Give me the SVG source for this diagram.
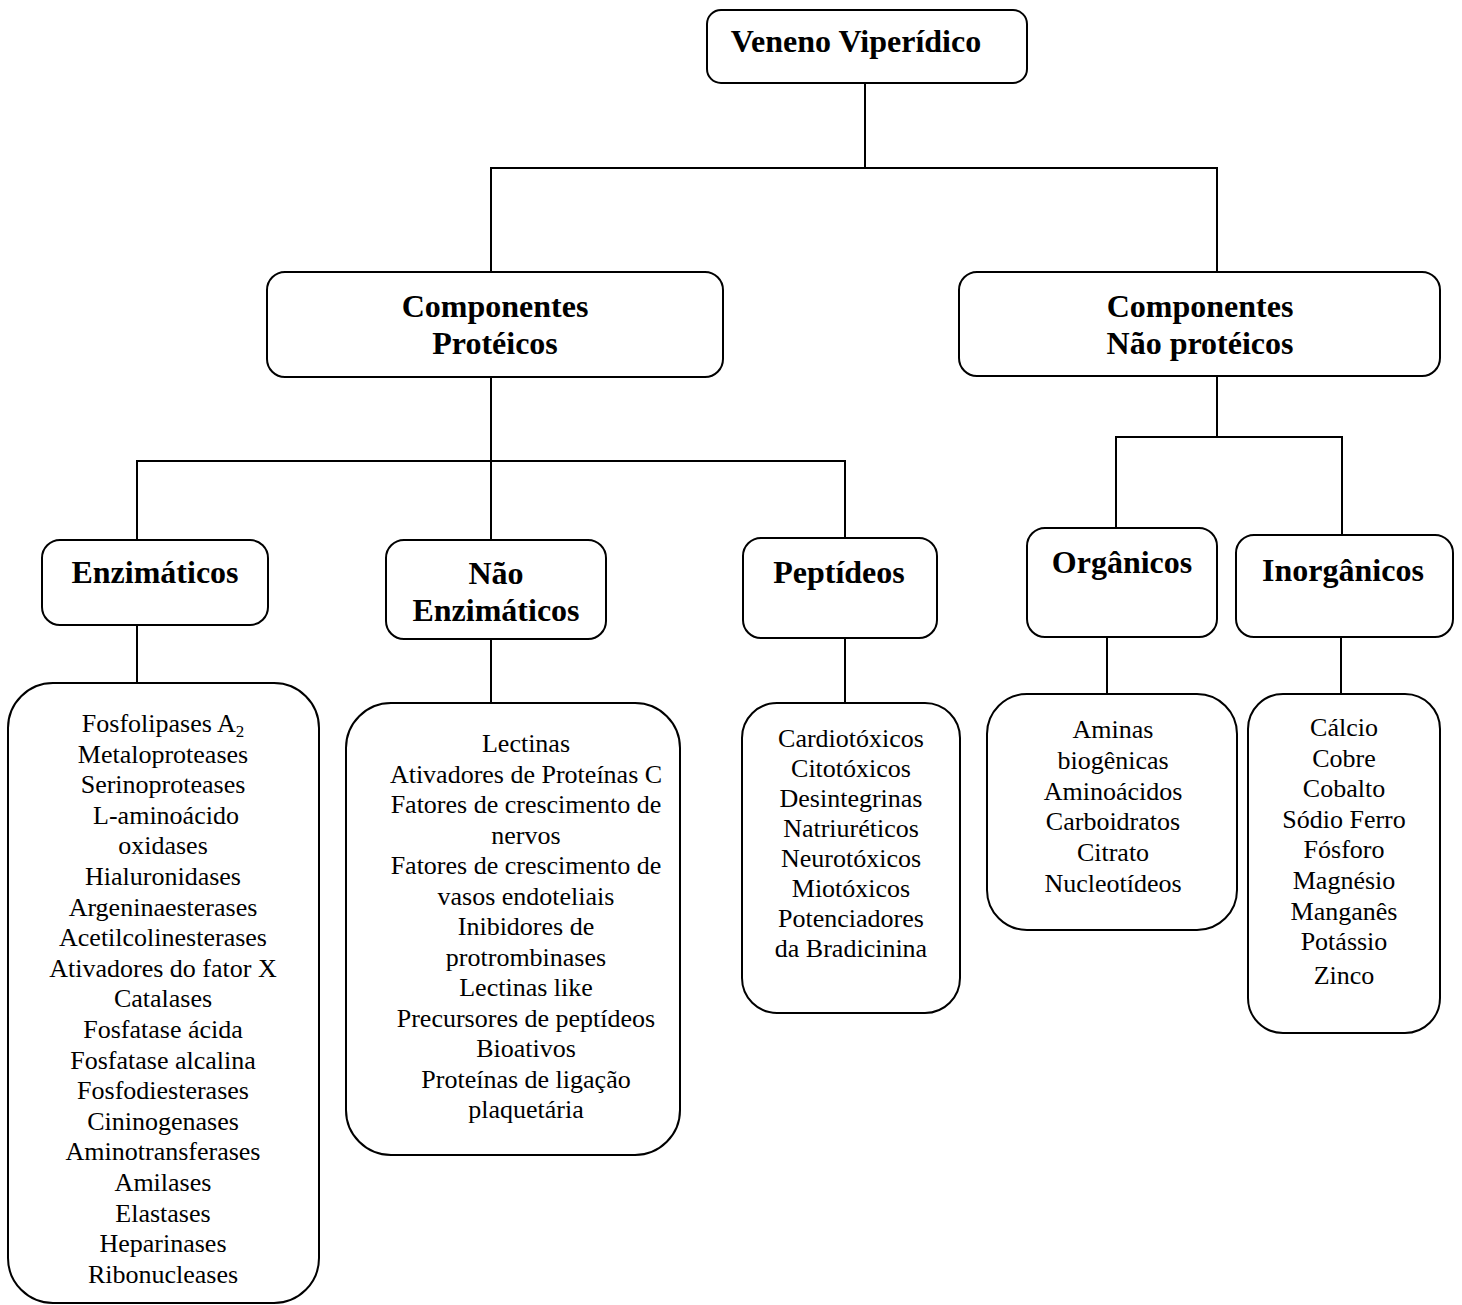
<svg xmlns="http://www.w3.org/2000/svg" width="1462" height="1305" viewBox="0 0 1462 1305">
<style>
.box{fill:#fff;stroke:#000;stroke-width:2}
.hd{font-family:"Liberation Serif","Times New Roman",serif;font-weight:bold;font-size:32px;text-anchor:middle;fill:#000}
.tx{font-family:"Liberation Serif","Times New Roman",serif;font-size:26px;text-anchor:middle;fill:#000}
.ln{fill:none;stroke:#000;stroke-width:2}
</style>
<rect width="1462" height="1305" fill="#fff"/>
<g id="connectors">
<polyline class="ln" points="865,83 865,168"/>
<polyline class="ln" points="491,272 491,168 1217,168 1217,272"/>
<polyline class="ln" points="491,377 491,540"/>
<polyline class="ln" points="137,540 137,461 845,461 845,538"/>
<polyline class="ln" points="1217,376 1217,437"/>
<polyline class="ln" points="1116,529 1116,437 1342,437 1342,535"/>
<polyline class="ln" points="137,625 137,683"/>
<polyline class="ln" points="491,639 491,703"/>
<polyline class="ln" points="845,638 845,703"/>
<polyline class="ln" points="1107,637 1107,694"/>
<polyline class="ln" points="1341,637 1341,694"/>
</g>
<g id="veneno">
<rect class="box" x="707" y="10" width="320" height="73" rx="14"/>
<text class="hd" x="856" y="52">Veneno Viperídico</text>
</g>
<g id="proteicos">
<rect class="box" x="267" y="272" width="456" height="105" rx="18"/>
<text class="hd" x="495" y="317">Componentes</text>
<text class="hd" x="495" y="354">Protéicos</text>
</g>
<g id="naoproteicos">
<rect class="box" x="959" y="272" width="481" height="104" rx="18"/>
<text class="hd" x="1200" y="317">Componentes</text>
<text class="hd" x="1200" y="354">Não protéicos</text>
</g>
<g id="enzimaticos">
<rect class="box" x="42" y="540" width="226" height="85" rx="18"/>
<text class="hd" x="155" y="583">Enzimáticos</text>
</g>
<g id="naoenzimaticos">
<rect class="box" x="386" y="540" width="220" height="99" rx="18"/>
<text class="hd" x="496" y="584">Não</text>
<text class="hd" x="496" y="621">Enzimáticos</text>
</g>
<g id="peptideos">
<rect class="box" x="743" y="538" width="194" height="100" rx="18"/>
<text class="hd" x="839" y="583">Peptídeos</text>
</g>
<g id="organicos">
<rect class="box" x="1027" y="528" width="190" height="109" rx="18"/>
<text class="hd" x="1122" y="573">Orgânicos</text>
</g>
<g id="inorganicos">
<rect class="box" x="1236" y="535" width="217" height="102" rx="18"/>
<text class="hd" x="1343" y="581">Inorgânicos</text>
</g>
<g id="lista-enzimaticos">
<rect class="box" x="8" y="683" width="311" height="620" rx="45"/>
<text class="tx" x="163" y="732">Fosfolipases A<tspan font-size="17" dy="5">2</tspan></text>
<text class="tx" x="163" y="762.6">Metaloproteases</text>
<text class="tx" x="163" y="793.2">Serinoproteases</text>
<text class="tx" x="166" y="823.8">L-aminoácido</text>
<text class="tx" x="163" y="854.4">oxidases</text>
<text class="tx" x="163" y="885">Hialuronidases</text>
<text class="tx" x="163" y="915.6">Argeninaesterases</text>
<text class="tx" x="163" y="946.2">Acetilcolinesterases</text>
<text class="tx" x="163" y="976.8">Ativadores do fator X</text>
<text class="tx" x="163" y="1007.4">Catalases</text>
<text class="tx" x="163" y="1038">Fosfatase ácida</text>
<text class="tx" x="163" y="1068.6">Fosfatase alcalina</text>
<text class="tx" x="163" y="1099.2">Fosfodiesterases</text>
<text class="tx" x="163" y="1129.8">Cininogenases</text>
<text class="tx" x="163" y="1160.4">Aminotransferases</text>
<text class="tx" x="163" y="1191">Amilases</text>
<text class="tx" x="163" y="1221.6">Elastases</text>
<text class="tx" x="163" y="1252.2">Heparinases</text>
<text class="tx" x="163" y="1282.8">Ribonucleases</text>
</g>
<g id="lista-naoenzimaticos">
<rect class="box" x="346" y="703" width="334" height="452" rx="45"/>
<text class="tx" x="526" y="752">Lectinas</text>
<text class="tx" x="526" y="782.5">Ativadores de Proteínas C</text>
<text class="tx" x="526" y="813">Fatores de crescimento de</text>
<text class="tx" x="526" y="843.5">nervos</text>
<text class="tx" x="526" y="874">Fatores de crescimento de</text>
<text class="tx" x="526" y="904.5">vasos endoteliais</text>
<text class="tx" x="526" y="935">Inibidores de</text>
<text class="tx" x="526" y="965.5">protrombinases</text>
<text class="tx" x="526" y="996">Lectinas like</text>
<text class="tx" x="526" y="1026.5">Precursores de peptídeos</text>
<text class="tx" x="526" y="1057">Bioativos</text>
<text class="tx" x="526" y="1087.5">Proteínas de ligação</text>
<text class="tx" x="526" y="1118">plaquetária</text>
</g>
<g id="lista-peptideos">
<rect class="box" x="742" y="703" width="218" height="310" rx="35"/>
<text class="tx" x="851" y="747">Cardiotóxicos</text>
<text class="tx" x="851" y="777">Citotóxicos</text>
<text class="tx" x="851" y="807">Desintegrinas</text>
<text class="tx" x="851" y="837">Natriuréticos</text>
<text class="tx" x="851" y="867">Neurotóxicos</text>
<text class="tx" x="851" y="897">Miotóxicos</text>
<text class="tx" x="851" y="927">Potenciadores</text>
<text class="tx" x="851" y="957">da Bradicinina</text>
</g>
<g id="lista-organicos">
<rect class="box" x="987" y="694" width="250" height="236" rx="40"/>
<text class="tx" x="1113" y="738">Aminas</text>
<text class="tx" x="1113" y="768.8">biogênicas</text>
<text class="tx" x="1113" y="799.6">Aminoácidos</text>
<text class="tx" x="1113" y="830.4">Carboidratos</text>
<text class="tx" x="1113" y="861.2">Citrato</text>
<text class="tx" x="1113" y="892">Nucleotídeos</text>
</g>
<g id="lista-inorganicos">
<rect class="box" x="1248" y="694" width="192" height="339" rx="35"/>
<text class="tx" x="1344" y="736">Cálcio</text>
<text class="tx" x="1344" y="766.6">Cobre</text>
<text class="tx" x="1344" y="797.2">Cobalto</text>
<text class="tx" x="1344" y="827.8">Sódio Ferro</text>
<text class="tx" x="1344" y="858.4">Fósforo</text>
<text class="tx" x="1344" y="889">Magnésio</text>
<text class="tx" x="1344" y="919.6">Manganês</text>
<text class="tx" x="1344" y="950.2">Potássio</text>
<text class="tx" x="1344" y="984">Zinco</text>
</g>
</svg>
